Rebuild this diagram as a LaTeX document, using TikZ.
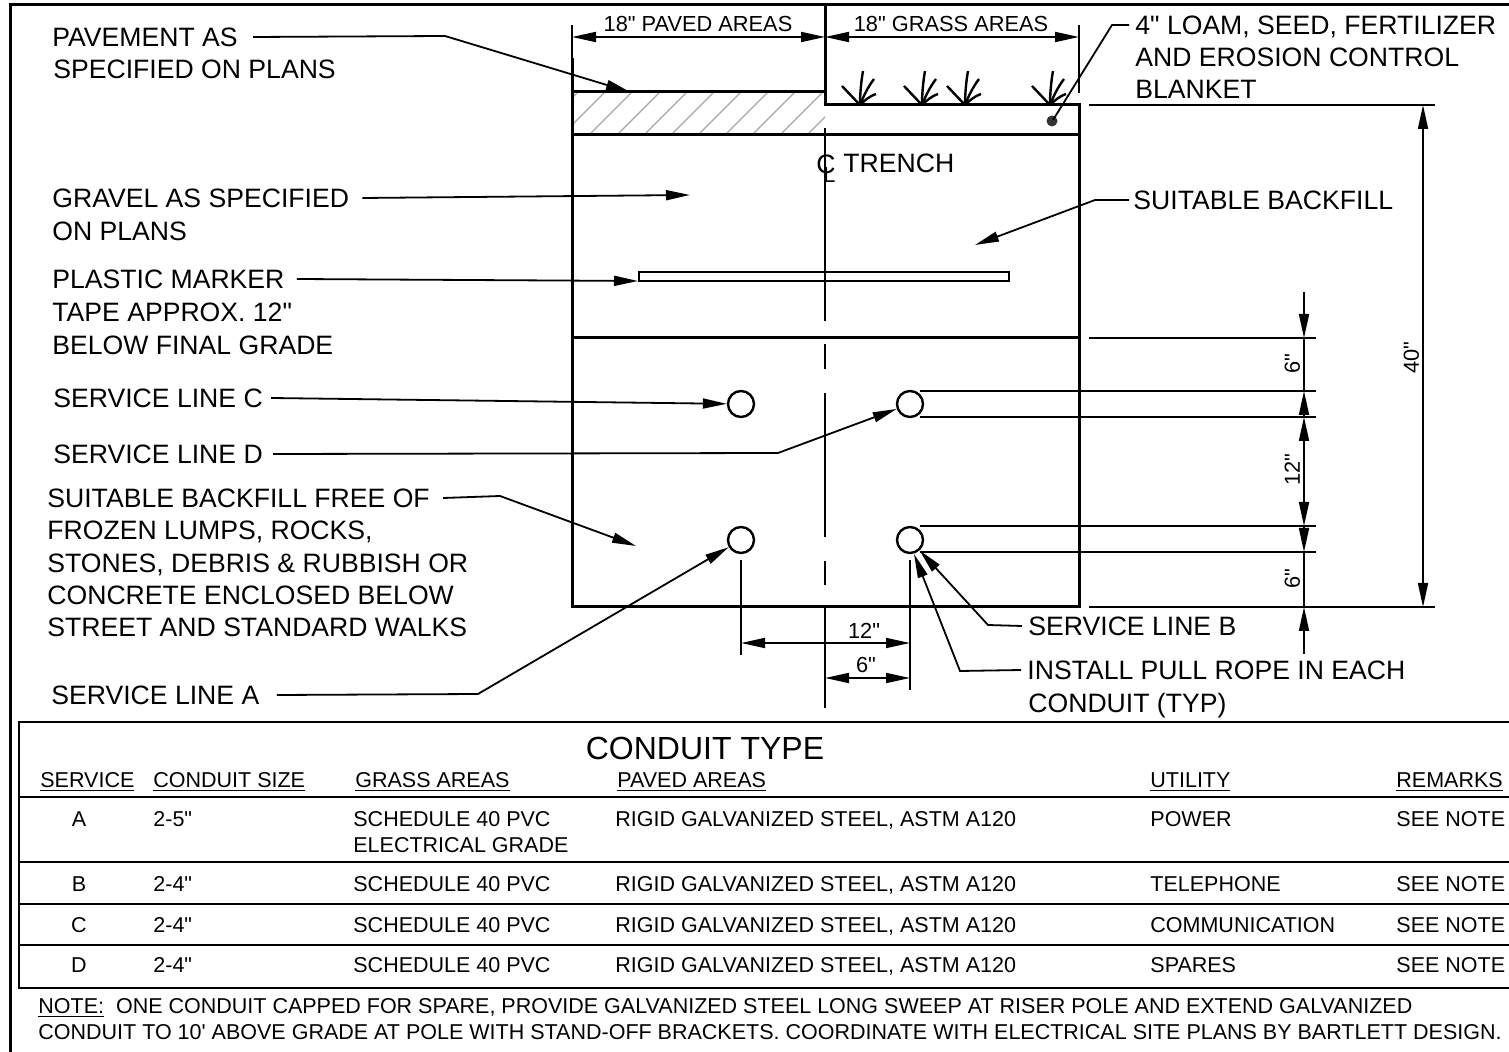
\documentclass[tikz,border=0pt]{standalone}
\usepackage{fontspec}
\newfontfamily\cadfont{Liberation Sans}
\usetikzlibrary{positioning,calc,patterns,arrows.meta}
\tikzset{
  lbl/.style={inner sep=0pt,anchor=west,text height=9.5pt,text depth=0pt,font=\cadfont\fontsize{13.3}{15}\selectfont},
  tbl/.style={inner sep=0pt,anchor=west,text height=7.7pt,text depth=0pt,font=\cadfont\fontsize{10.75}{12}\selectfont},
  dimtxt/.style={inner sep=0pt,text height=7.8pt,text depth=0pt,font=\cadfont\fontsize{10.9}{12}\selectfont},
  heavy/.style={line width=1.5pt},
  thin line/.style={line width=0.9pt},
  leader/.style={line width=0.9pt,-{Triangle[length=12pt,width=5pt]}},
  dimboth/.style={line width=0.9pt,{Triangle[length=12pt,width=5pt]}-{Triangle[length=12pt,width=5pt]}},
  dimone/.style={line width=0.9pt,-{Triangle[length=12pt,width=5pt]}},
  conduit/.style={circle,draw,line width=1.2pt,minimum size=13pt,inner sep=0pt}
}
\begin{document}
\begin{tikzpicture}[x=0.5pt,y=-0.5pt]
  \useasboundingbox (0,0) rectangle (1509,1052);

  % Sheet border
  \draw[line width=1.75pt] (1509,4.5) -- (10.5,4.5) -- (10.5,1052);

  % Pavement hatch
  \begin{scope}
    \clip (572,92) rectangle (825,135);
    \foreach \x in {535,562,589,617,644,671,698,725,752,780,807} {
      \draw[gray!70,line width=0.7pt] (\x,135) -- (\x+43,92);
    }
  \end{scope}

  % Trench
  \draw[heavy] (572,58) -- (572,607) -- (1079,607) -- (1079,105) -- (825,105) -- (825,5);
  \draw[heavy] (572,92) -- (825,92);
  \draw[heavy] (572,135) -- (1079,135);
  \draw[heavy] (572,338) -- (1079,338);
  \draw[line width=1pt] (639,272) rectangle (1009,281);

  % Centerline
  \draw[thin line] (825,128) -- (825,321);
  \draw[thin line] (825,344) -- (825,369);
  \draw[thin line] (825,393) -- (825,537);
  \draw[thin line] (825,561) -- (825,585);
  \draw[thin line] (825,608) -- (825,708);

  % Conduits
  \node[conduit] (condC) at (741,404) {};
  \node[conduit] (condD) at (910,404) {};
  \node[conduit] (condA) at (741,540) {};
  \node[conduit] (condB) at (910,540) {};

  % Grass
  \foreach \x in {860,922,965,1050} {
    \draw[line width=1.2pt] (\x,105) -- (\x-18,86);
    \draw[line width=1.2pt] (\x,105) .. controls (\x,95) and (\x+1,82) .. (\x+3,71);
    \draw[line width=1.2pt] (\x,105) .. controls (\x+4,95) and (\x+8,87) .. (\x+14,79);
    \draw[line width=1.2pt] (\x,105) .. controls (\x+5,100) and (\x+10,96) .. (\x+16,94);
  }
  \fill[black!80] (1052,121) circle (5.5);

  % Extension lines
  \draw[thin line] (572,25) -- (572,58);
  \draw[thin line] (1079,25) -- (1079,93);
  \draw[thin line] (1089,105) -- (1435,105);
  \draw[thin line] (1089,338) -- (1316,338);
  \draw[thin line] (1089,607) -- (1435,607);
  \foreach \y in {391,417,526,552} {
    \draw[thin line] (920,\y) -- (1316,\y);
  }
  \draw[thin line] (741,560) -- (741,655);
  \draw[thin line] (910,560) -- (910,690);

  % Dimensions
  \coordinate (dimL) at (572,37);
  \coordinate (dimM) at (825,37);
  \coordinate (dimR) at (1079,37);
  \draw[dimboth] (dimL) -- (dimM);
  \draw[dimboth] (dimM) -- (dimR);
  \node[dimtxt] (paved) at (698,24) {18" PAVED AREAS};
  \node[dimtxt] (grass) at (951,24) {18" GRASS AREAS};
  \draw[dimboth] (1423,105) -- (1423,607);
  \node[dimtxt,rotate=90] (dimforty) at (1411,358) {40"};
  \draw[dimone] (1304,292) -- (1304,338);
  \draw[thin line] (1304,338) -- (1304,391);
  \draw[dimone] (1304,417) -- (1304,391);
  \draw[dimboth] (1304,417) -- (1304,526);
  \draw[dimone] (1304,526) -- (1304,552);
  \draw[thin line] (1304,552) -- (1304,607);
  \draw[dimone] (1304,654) -- (1304,607);
  \node[dimtxt,rotate=90] (dimsixa) at (1292,364) {6"};
  \node[dimtxt,rotate=90] (dimtw) at (1292,470) {12"};
  \node[dimtxt,rotate=90] (dimsixb) at (1292,579) {6"};
  \draw[dimboth] (741,643) -- (910,643);
  \draw[dimboth] (825,678) -- (910,678);
  \node[dimtxt] (dimtwb) at (864,631) {12"};
  \node[dimtxt] (dimsixc) at (866,665) {6"};

  % Centerline mark
  \node[lbl] (clc) at (816,164) {C};
  \node[lbl,text height=7.8pt,font=\cadfont\fontsize{10.9}{12}\selectfont] (cll) at (823,174.5) {L};
  \node[lbl] (trench) at (843,163) {TRENCH};

  % Left labels
  \node[lbl] (pavA) at (52,37) {PAVEMENT AS};
  \node[lbl] (pavB) at (53,69) {SPECIFIED ON PLANS};
  \node[lbl] (grvA) at (52,198) {GRAVEL AS SPECIFIED};
  \node[lbl] (grvB) at (52,231) {ON PLANS};
  \node[lbl] (tapeA) at (52,279) {PLASTIC MARKER};
  \node[lbl] (tapeB) at (52,312) {TAPE APPROX. 12"};
  \node[lbl] (tapeC) at (52,345) {BELOW FINAL GRADE};
  \node[lbl] (lineC) at (53,398) {SERVICE LINE C};
  \node[lbl] (lineD) at (53,454) {SERVICE LINE D};
  \node[lbl] (fillA) at (47,498) {SUITABLE BACKFILL FREE OF};
  \node[lbl] (fillB) at (47,530) {FROZEN LUMPS, ROCKS,};
  \node[lbl] (fillC) at (47,563) {STONES, DEBRIS \& RUBBISH OR};
  \node[lbl] (fillD) at (47,595) {CONCRETE ENCLOSED BELOW};
  \node[lbl] (fillE) at (47,627) {STREET AND STANDARD WALKS};
  \node[lbl] (lineA) at (51,695) {SERVICE LINE A};

  % Right labels
  \node[lbl] (loamA) at (1135,25) {4" LOAM, SEED, FERTILIZER};
  \node[lbl] (loamB) at (1135,57) {AND EROSION CONTROL};
  \node[lbl] (loamC) at (1135,89) {BLANKET};
  \node[lbl] (backfill) at (1133,200) {SUITABLE BACKFILL};
  \node[lbl] (lineB) at (1028,626) {SERVICE LINE B};
  \node[lbl] (ropeA) at (1027,670) {INSTALL PULL ROPE IN EACH};
  \node[lbl] (ropeB) at (1028,703) {CONDUIT (TYP)};

  % Leaders
  \coordinate (pavT) at (630,92);
  \coordinate (grvT) at (690,195);
  \coordinate (tapeT) at (638,281);
  \coordinate (fillT) at (636,546);
  \coordinate (backT) at (975,245);
  \coordinate (loamT) at (1053,120);
  \draw[leader] ([xshift=7.5pt]pavA.east) -- (445,36) -- (pavT);
  \draw[leader] ([xshift=6.5pt]grvA.east) -- (grvT);
  \draw[leader] ([xshift=6pt]tapeA.east) -- (tapeT);
  \draw[leader] ([xshift=4pt]lineC.east) -- (condC);
  \draw[leader] ([xshift=5pt]lineD.east) -- (778,453) -- (condD);
  \draw[leader] ([xshift=6.5pt]fillA.east) -- (500,496) -- (fillT);
  \draw[leader] ([xshift=8.5pt]lineA.east) -- (478,694) -- (condA);
  \draw[line width=0.9pt] ([xshift=-3pt]loamA.west) -- (1112,25) -- (loamT);
  \draw[leader] ([xshift=-2pt]backfill.west) -- (1095,200) -- (backT);
  \draw[leader] ([xshift=-3pt]lineB.west) -- (988,625) -- (condB);
  \draw[leader] ([xshift=-3pt]ropeA.west) -- (960,671) -- (914,554);

  % Table
  \draw[line width=1pt] (1509,722) -- (19,722) -- (19,988) -- (1509,988);
  \foreach \y in {797,862,904,945} {
    \draw[line width=1pt] (19,\y) -- (1509,\y);
  }
  \node[lbl,anchor=center,text height=11.5pt,font=\cadfont\fontsize{16}{18}\selectfont] (title) at (705,748) {CONDUIT TYPE};
  \foreach \nm/\x/\txt in {hsvc/40/SERVICE,hsize/153/CONDUIT SIZE,hgrass/355/GRASS AREAS,hpaved/617/PAVED AREAS,hutil/1150/UTILITY,hrem/1396/REMARKS} {
    \node[tbl] (\nm) at (\x,780) {\underline{\txt}};
  }
  \foreach \row/\y/\siz/\util in {A/819/2-5"/POWER,B/884/2-4"/TELEPHONE,C/925/2-4"/COMMUNICATION,D/965/2-4"/SPARES} {
    \node[tbl,anchor=center] (svc\row) at (79,\y) {\row};
    \node[tbl] (siz\row) at (153,\y) {\siz};
    \node[tbl] (grs\row) at (353,\y) {SCHEDULE 40 PVC};
    \node[tbl] (pvd\row) at (615,\y) {RIGID GALVANIZED STEEL, ASTM A120};
    \node[tbl] (utl\row) at (1150,\y) {\util};
    \node[tbl] (rem\row) at (1396,\y) {SEE NOTE};
  }
  \node[tbl] (grsE) at (353,845) {ELECTRICAL GRADE};

  % Note
  \node[tbl] (noteA) at (38,1006) {\underline{NOTE:}\ \ ONE CONDUIT CAPPED FOR SPARE, PROVIDE GALVANIZED STEEL LONG SWEEP AT RISER POLE AND EXTEND GALVANIZED};
  \node[tbl] (noteB) at (38,1032) {CONDUIT TO 10' ABOVE GRADE AT POLE WITH STAND-OFF BRACKETS. COORDINATE WITH ELECTRICAL SITE PLANS BY BARTLETT DESIGN.};
\end{tikzpicture}
\end{document}
